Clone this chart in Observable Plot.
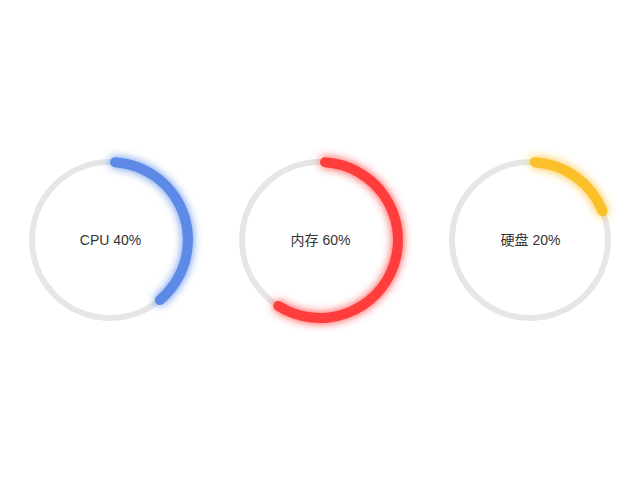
<!DOCTYPE html>
<html>
<head>
<meta charset="utf-8">
<script src="https://cdn.jsdelivr.net/npm/d3@7"></script>
<script src="https://cdn.jsdelivr.net/npm/@observablehq/plot@0.6"></script>
<style>
  html, body { margin: 0; padding: 0; background: #fff; }
</style>
</head>
<body>
<div id="chart"></div>
<script>
const names = ["CPU", "内存", "硬盘"];
const percents = [40, 60, 20];
const colors = ["#5b8ae6", "#ff3e3e", "#fbbf2b"];
const trackColor = "#e6e6e6";

const R = 78;           // ring radius (px)
const arcWidth = 10;
const trackWidth = 6;

function rings(index, scales, values, dimensions) {
  const x = scales.x;
  const bw = typeof x.bandwidth === "function" ? x.bandwidth() : (x.bandwidth || 0);
  const cy = dimensions.marginTop + (dimensions.height - dimensions.marginTop - dimensions.marginBottom) / 2;
  const g = d3.create("svg:g");
  const defs = g.append("defs");
  names.forEach((n, i) => {
    defs.append("filter")
      .attr("id", "glow" + i)
      .attr("x", "-50%").attr("y", "-50%").attr("width", "200%").attr("height", "200%")
      .append("feDropShadow")
      .attr("dx", 0).attr("dy", 0)
      .attr("stdDeviation", 5)
      .attr("flood-color", colors[i])
      .attr("flood-opacity", 1);
  });
  const arc = d3.arc()
    .innerRadius(R - arcWidth / 2)
    .outerRadius(R + arcWidth / 2)
    .cornerRadius(arcWidth / 2)
    .startAngle(0);
  names.forEach((n, i) => {
    const cx = x(n) + bw / 2;
    const gg = g.append("g").attr("transform", `translate(${cx},${cy})`);
    gg.append("circle")
      .attr("r", R)
      .attr("fill", "none")
      .attr("stroke", trackColor)
      .attr("stroke-width", trackWidth);
    gg.append("path")
      .attr("d", arc({endAngle: 2 * Math.PI * percents[i] / 100}))
      .attr("fill", colors[i])
      .attr("filter", `url(#glow${i})`);
  });
  return g.node();
}

const chart = Plot.plot({
  width: 640,
  height: 480,
  marginLeft: 5,
  marginRight: 5,
  marginTop: 0,
  marginBottom: 0,
  x: {type: "band", domain: names, padding: 0, axis: null},
  style: {fontFamily: "Helvetica, Arial, 'Liberation Sans', 'Noto Sans CJK SC', sans-serif", background: "#fff"},
  marks: [
    rings,
    Plot.text(names, {
      x: d => d,
      text: (d, i) => `${d} ${percents[i]}%`,
      fontSize: 14,
      fill: "#333"
    })
  ]
});
document.getElementById("chart").appendChild(chart);
</script>
</body>
</html>
